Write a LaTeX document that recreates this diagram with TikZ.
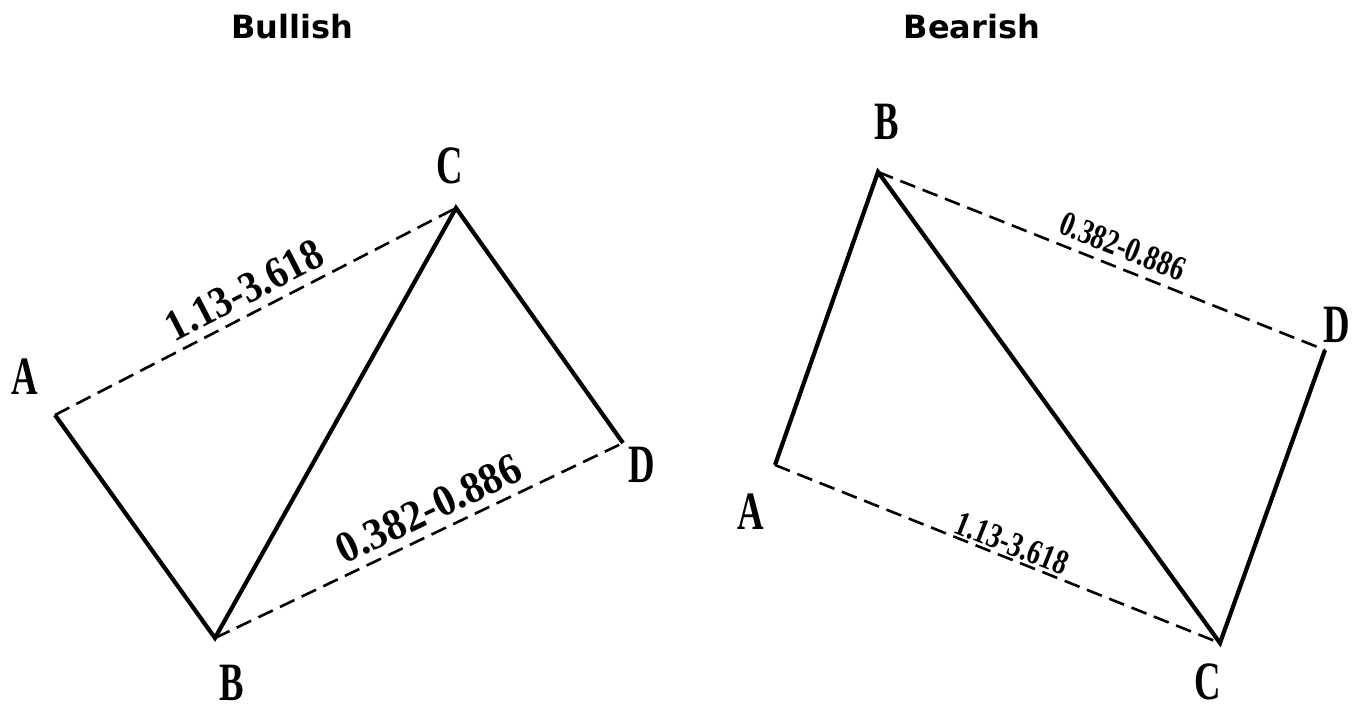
\documentclass[tikz,border=0pt]{standalone}
\usepackage{fontspec}
\setmainfont{Liberation Serif}
\newfontfamily\ttlfont{DejaVu Sans}
\tikzset{
  solidline/.style={line width=4.2pt, line join=miter},
  dashline/.style={line width=2.6pt, dash pattern=on 16pt off 8pt},
  ttl/.style={inner sep=0pt, font=\ttlfont\bfseries\fontsize{32}{32}\selectfont},
  ptlab/.style={inner sep=0pt, font=\bfseries\fontsize{54}{54}\selectfont},
  bignum/.style={inner sep=0pt, font=\bfseries\fontsize{44}{44}\selectfont},
  smallnum/.style={inner sep=0pt, font=\bfseries\fontsize{35}{35}\selectfont}
}
\newcommand{\narrow}[2]{\scalebox{#1}[1]{#2}}
\begin{document}
\begin{tikzpicture}[x=1pt,y=-1pt]
\useasboundingbox (0,0) rectangle (1361,707);
\node[ttl] (t1) at (292,27) {Bullish};
\node[ttl] (t2) at (972,27) {Bearish};
% Bullish
\coordinate (A1) at (55,415);
\coordinate (B1) at (215,638);
\coordinate (C1) at (456,208);
\coordinate (D1) at (623,443);
\draw[solidline] (A1) -- (B1) -- (C1) -- (D1);
\draw[dashline] (A1) -- (C1) node[bignum, pos=0.5, sloped, above=8pt] (l1) {\narrow{0.9}{1.13-3.618}};
\draw[dashline] (B1) -- (D1) node[bignum, pos=0.55, sloped, above=8pt] (l2) {\narrow{0.94}{0.382-0.886}};
\node[ptlab] (a1) at (25,377) {\narrow{0.68}{A}};
\node[ptlab] (b1) at (232,683) {\narrow{0.68}{B}};
\node[ptlab] (c1) at (450,166) {\narrow{0.68}{C}};
\node[ptlab] (d1) at (642,465) {\narrow{0.68}{D}};
% Bearish
\coordinate (A2) at (775,465);
\coordinate (B2) at (878,172);
\coordinate (C2) at (1220,643);
\coordinate (D2) at (1325,350);
\draw[solidline] (A2) -- (B2) -- (C2) -- (D2);
\draw[dashline] (B2) -- (D2) node[smallnum, pos=0.53, sloped, above=8pt] (l3) {\narrow{0.78}{0.382-0.886}};
\draw[dashline] (A2) -- (C2) node[smallnum, pos=0.52, sloped, above=2pt] (l4) {\narrow{0.78}{1.13-3.618}};
\node[ptlab] (a2) at (751,512) {\narrow{0.68}{A}};
\node[ptlab] (b2) at (887,122) {\narrow{0.68}{B}};
\node[ptlab] (c2) at (1208,682) {\narrow{0.68}{C}};
\node[ptlab] (d2) at (1337,325) {\narrow{0.68}{D}};
\end{tikzpicture}
\end{document}
